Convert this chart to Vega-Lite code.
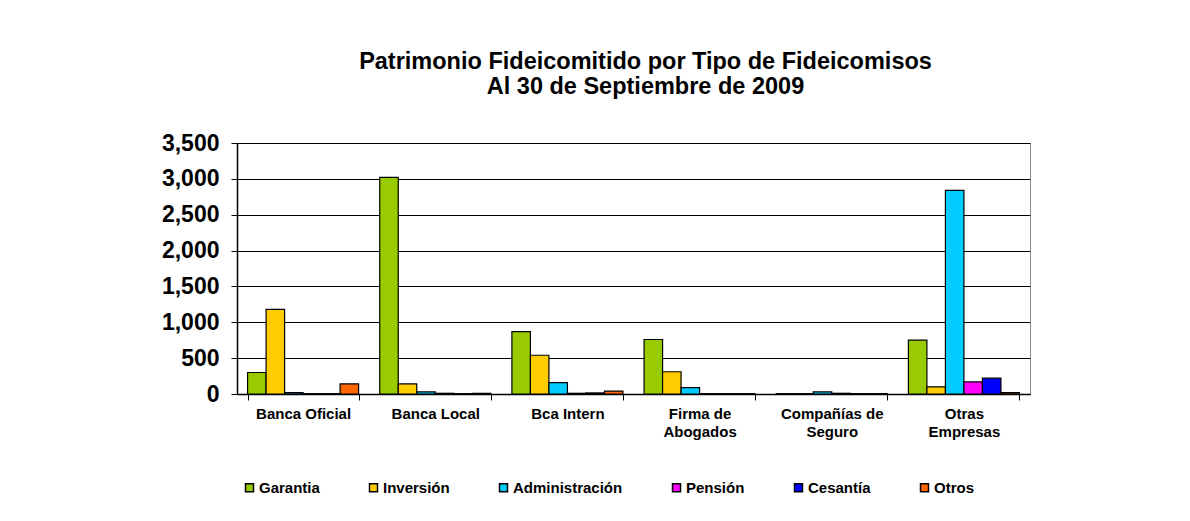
{
  "$schema": "https://vega.github.io/schema/vega-lite/v6.json",
  "width": 793,
  "height": 251,
  "autosize": "none",
  "padding": {"left": 237, "top": 143, "right": 160, "bottom": 127},
  "background": "white",
  "title": {
    "text": ["Patrimonio Fideicomitido por Tipo de Fideicomisos", "Al 30 de Septiembre de 2009"],
    "font": "Liberation Sans",
    "fontSize": 23.5,
    "fontWeight": "bold",
    "lineHeight": 25,
    "anchor": "middle",
    "dx": 12,
    "offset": 34,
    "color": "black"
  },
  "data": {
    "values": [
      {"tipo": "Banca Oficial", "serie": "Garantia", "valor": 300},
      {"tipo": "Banca Oficial", "serie": "Inversión", "valor": 1180},
      {"tipo": "Banca Oficial", "serie": "Administración", "valor": 20},
      {"tipo": "Banca Oficial", "serie": "Pensión", "valor": 5},
      {"tipo": "Banca Oficial", "serie": "Cesantía", "valor": 5},
      {"tipo": "Banca Oficial", "serie": "Otros", "valor": 140},
      {"tipo": "Banca Local", "serie": "Garantia", "valor": 3020},
      {"tipo": "Banca Local", "serie": "Inversión", "valor": 140},
      {"tipo": "Banca Local", "serie": "Administración", "valor": 30},
      {"tipo": "Banca Local", "serie": "Pensión", "valor": 10},
      {"tipo": "Banca Local", "serie": "Cesantía", "valor": 5},
      {"tipo": "Banca Local", "serie": "Otros", "valor": 10},
      {"tipo": "Bca Intern", "serie": "Garantia", "valor": 870},
      {"tipo": "Bca Intern", "serie": "Inversión", "valor": 540},
      {"tipo": "Bca Intern", "serie": "Administración", "valor": 160},
      {"tipo": "Bca Intern", "serie": "Pensión", "valor": 10},
      {"tipo": "Bca Intern", "serie": "Cesantía", "valor": 15},
      {"tipo": "Bca Intern", "serie": "Otros", "valor": 40},
      {"tipo": "Firma de Abogados", "serie": "Garantia", "valor": 760},
      {"tipo": "Firma de Abogados", "serie": "Inversión", "valor": 310},
      {"tipo": "Firma de Abogados", "serie": "Administración", "valor": 90},
      {"tipo": "Firma de Abogados", "serie": "Pensión", "valor": 5},
      {"tipo": "Firma de Abogados", "serie": "Cesantía", "valor": 5},
      {"tipo": "Firma de Abogados", "serie": "Otros", "valor": 5},
      {"tipo": "Compañías de Seguro", "serie": "Garantia", "valor": 5},
      {"tipo": "Compañías de Seguro", "serie": "Inversión", "valor": 5},
      {"tipo": "Compañías de Seguro", "serie": "Administración", "valor": 30},
      {"tipo": "Compañías de Seguro", "serie": "Pensión", "valor": 10},
      {"tipo": "Compañías de Seguro", "serie": "Cesantía", "valor": 5},
      {"tipo": "Compañías de Seguro", "serie": "Otros", "valor": 5},
      {"tipo": "Otras Empresas", "serie": "Garantia", "valor": 750},
      {"tipo": "Otras Empresas", "serie": "Inversión", "valor": 100},
      {"tipo": "Otras Empresas", "serie": "Administración", "valor": 2840},
      {"tipo": "Otras Empresas", "serie": "Pensión", "valor": 170},
      {"tipo": "Otras Empresas", "serie": "Cesantía", "valor": 220},
      {"tipo": "Otras Empresas", "serie": "Otros", "valor": 20}
    ]
  },
  "mark": {"type": "bar", "stroke": "black", "strokeWidth": 1.2},
  "encoding": {
    "x": {
      "field": "tipo",
      "type": "nominal",
      "sort": null,
      "title": null,
      "scale": {"paddingInner": 0.16, "paddingOuter": 0.08},
      "axis": {
        "labelAngle": 0,
        "labelFont": "Liberation Sans",
        "labelFontSize": 15,
        "labelFontWeight": "bold",
        "labelColor": "black",
        "labelPadding": 6,
        "labelLineHeight": 18,
        "labelExpr": "datum.label == 'Firma de Abogados' ? ['Firma de', 'Abogados'] : datum.label == 'Compañías de Seguro' ? ['Compañías de', 'Seguro'] : datum.label == 'Otras Empresas' ? ['Otras', 'Empresas'] : datum.label",
        "tickBand": "extent",
        "tickColor": "black",
        "tickSize": 6,
        "domainColor": "black",
        "domainWidth": 1.5
      }
    },
    "xOffset": {"field": "serie", "type": "nominal", "sort": ["Garantia", "Inversión", "Administración", "Pensión", "Cesantía", "Otros"], "scale": {"paddingInner": 0}},
    "y": {
      "field": "valor",
      "type": "quantitative",
      "title": null,
      "scale": {"domain": [0, 3500], "nice": false},
      "axis": {
        "values": [0, 500, 1000, 1500, 2000, 2500, 3000, 3500],
        "format": ",d",
        "labelFont": "Liberation Sans",
        "labelFontSize": 23,
        "labelFontWeight": "bold",
        "labelColor": "black",
        "labelPadding": 12,
        "tickColor": "black",
        "tickSize": 6,
        "domainColor": "black",
        "domainWidth": 1.5,
        "grid": true,
        "gridColor": "black",
        "gridWidth": 1.2
      }
    },
    "color": {
      "field": "serie",
      "type": "nominal",
      "sort": ["Garantia", "Inversión", "Administración", "Pensión", "Cesantía", "Otros"],
      "scale": {
        "domain": ["Garantia", "Inversión", "Administración", "Pensión", "Cesantía", "Otros"],
        "range": ["#99CC00", "#FFCC00", "#00CCFF", "#FF00FF", "#0000FF", "#FF6600"]
      },
      "legend": {
        "title": null,
        "orient": "none",
        "legendX": 5,
        "legendY": 337,
        "direction": "horizontal",
        "columns": 6,
        "columnPadding": 46,
        "symbolType": "square",
        "symbolSize": 64,
        "symbolStrokeColor": "black",
        "symbolStrokeWidth": 1.5,
        "labelFont": "Liberation Sans",
        "labelFontSize": 15,
        "labelFontWeight": "bold",
        "labelColor": "black",
        "labelOffset": 2
      }
    }
  },
  "config": {
    "view": {"stroke": "#888888", "strokeWidth": 1}
  }
}
